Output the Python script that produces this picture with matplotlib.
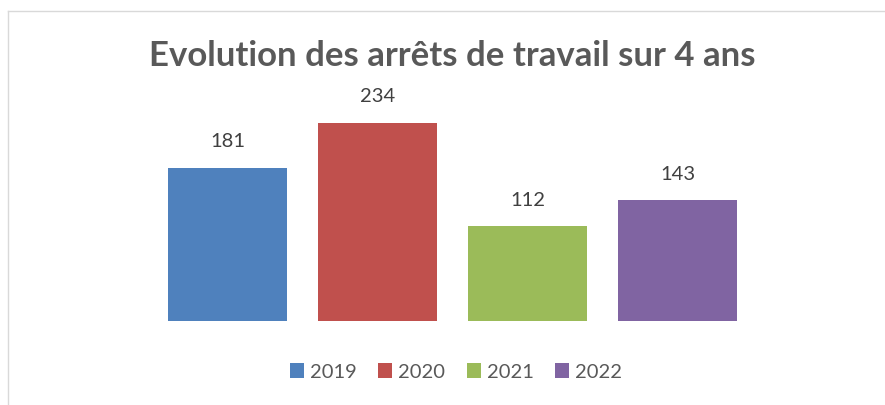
import matplotlib.pyplot as plt
from matplotlib.patches import Patch
from matplotlib.lines import Line2D

plt.rcParams['font.family'] = ['Lato', 'DejaVu Sans']

# data
years = ["2019", "2020", "2021", "2022"]
arrets = [181, 234, 112, 143]
colors = ["#4F81BD", "#C0504D", "#9BBB59", "#8064A2"]

W, H = 885, 405
fig = plt.figure(figsize=(W / 100, H / 100), dpi=100)

# plot area
ax = fig.add_axes([152.5 / W, 84 / H, 600 / W, 212 / H])
x = range(len(years))
bars = ax.bar(x, arrets, width=0.79, color=colors)
ax.set_xlim(-0.5, 3.5)
ax.set_ylim(0, 250)
ax.axis("off")

for b, v in zip(bars, arrets):
    ax.annotate(str(v), (b.get_x() + b.get_width() / 2, v),
                xytext=(0, 18.5), textcoords="offset points",
                ha="center", va="center", fontsize=14.5, color="#404040")

# title
fig.text(452 / W, 1 - 56 / H, "Evolution des arrêts de travail sur 4 ans",
         ha="center", va="center", fontsize=25, fontweight="bold",
         color="#595959")

# legend
handles = [Patch(facecolor=c, edgecolor="none") for c in colors]
fig.legend(handles, years, loc="center", bbox_to_anchor=(456 / W, 33 / H),
           ncol=4, frameon=False, fontsize=14.5, labelcolor="#595959",
           handlelength=0.7, handleheight=0.7, handletextpad=0.3,
           columnspacing=1.05)

# chart border (top and left edges visible)
border = "#D9D9D9"
fig.add_artist(Line2D([8 / W, 1], [1 - 11 / H, 1 - 11 / H], color=border, lw=1))
fig.add_artist(Line2D([8 / W, 8 / W], [0, 1 - 11 / H], color=border, lw=1))

fig.savefig("out.png", dpi=100)
